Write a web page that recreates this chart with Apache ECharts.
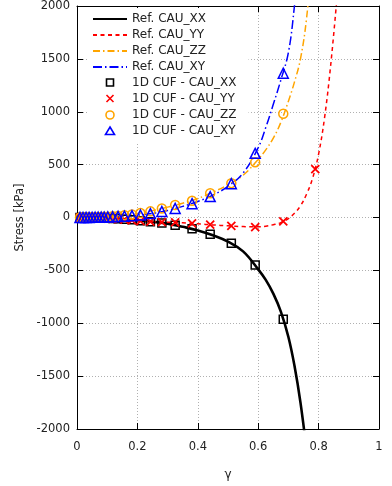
<!DOCTYPE html>
<html>
<head>
<meta charset="utf-8">
<script src="https://cdn.jsdelivr.net/npm/echarts@6/dist/echarts.min.js"></script>
<style>
  html, body { margin: 0; padding: 0; background: #ffffff; }
  #chart { width: 392px; height: 486px; }
</style>
</head>
<body>
<div id="chart"></div>
<script>
// Reference solution: shear strain γ and stress components [kPa]
const refGamma = [0, 0.05, 0.10, 0.15, 0.20, 0.25, 0.30, 0.35, 0.40, 0.45, 0.50, 0.55, 0.60, 0.625, 0.65, 0.675, 0.70, 0.72, 0.74, 0.76, 0.78, 0.80, 0.82, 0.84, 0.86];
const refXX = [0, -2, -6, -14, -26, -40, -58, -88, -122, -168, -228, -320, -490, -590, -720, -890, -1130, -1400, -1750, -2200, null, null, null, null, null];
const refYY = [0, -4, -10, -20, -32, -39, -44, -50, -60, -70, -79, -86, -88, -82, -68, -48, -10, 40, 110, 220, 370, 600, 950, 1440, 2050];
const refZZ = [0, 2, 8, 18, 38, 65, 98, 135, 180, 240, 310, 400, 550, 640, 750, 900, 1100, 1280, 1500, 1880, 2500, null, null, null, null];
const refXY = [0, 1, 4, 10, 22, 38, 66, 105, 152, 212, 295, 420, 660, 850, 1070, 1300, 1560, 2000, 2600, null, null, null, null, null, null];

// 1D CUF results at the load steps
const cufGamma = [0.01, 0.02, 0.03, 0.04, 0.05, 0.06, 0.07, 0.08, 0.09, 0.102, 0.118, 0.136, 0.157, 0.182, 0.210, 0.243, 0.281, 0.325, 0.381, 0.441, 0.511, 0.590, 0.683, 0.789];
const cufXX = [0, -0.5, -1, -1.5, -2, -3, -4, -5, -6, -7, -9, -12, -16, -22, -30, -40, -52, -74, -106, -158, -243, -449, -963, null];
const cufYY = [-0.5, -1, -2, -3, -4, -5, -6, -7, -8, -10, -13, -16, -21, -28, -34, -39, -43, -47, -55, -68, -80, -90, -37, 458];
const cufZZ = [0.2, 0.5, 1, 1.5, 2, 3, 4, 5, 6.5, 8, 11, 15, 21, 29, 42, 58, 85, 118, 158, 230, 325, 523, 981, null];
const cufXY = [0.1, 0.3, 0.5, 1, 1.5, 2, 2.5, 3, 4, 5, 7, 9, 13, 17, 24, 37, 57, 86, 131, 198, 320, 607, 1364, null];

const xTicks = { min: 0, max: 1, interval: 0.2 };
const yTicks = { min: -2000, max: 2000, interval: 500 };

function pairs(xs, ys) {
  const out = [];
  xs.forEach((x, i) => { if (ys[i] !== null && ys[i] !== undefined) out.push([x, ys[i]]); });
  return out;
}

const FONT = 'DejaVu Sans';
const crossPath = 'path://M0,0L10,10M10,0L0,10';

// Legend icons drawn inside a 34x9 box (the leading moves fix the box so the
// marker keeps its proportions and sits in the middle of the sample)
const ICON_BOX = 'M0,0M34,9';
const iconSquare = 'path://' + ICON_BOX + 'M13.5,0.5L20.5,0.5L20.5,7.5L13.5,7.5Z';
const iconCross = 'path://' + ICON_BOX + 'M13.5,0.5L20.5,7.5M20.5,0.5L13.5,7.5';
const iconCircle = 'path://' + ICON_BOX + 'M21,4.5A4,4,0,1,1,13,4.5A4,4,0,1,1,21,4.5Z';
const iconTriangle = 'path://' + ICON_BOX + 'M17,0.5L21.5,8L12.5,8Z';

function refLine(name, ys, color, width, dash) {
  return {
    name: name,
    type: 'line',
    data: pairs(refGamma, ys),
    symbol: 'none',
    showSymbol: false,
    smooth: 0.4,
    clip: true,
    lineStyle: { color: color, width: width, type: dash },
    itemStyle: { color: color },
    z: 2
  };
}

function cufMarks(name, ys, color, symbol, size, bw) {
  return {
    name: name,
    type: 'scatter',
    data: pairs(cufGamma, ys),
    symbol: symbol,
    symbolSize: size,
    clip: true,
    itemStyle: { color: 'rgba(0,0,0,0)', borderColor: color, borderWidth: bw, opacity: 1 },
    emphasis: { disabled: true },
    z: 3
  };
}

const markStyle = c => ({ color: 'rgba(0,0,0,0)', borderColor: c, borderWidth: 1.6 });
const legendData = [
  { name: 'Ref. CAU_XX', itemStyle: { opacity: 0, color: 'rgba(0,0,0,0)', borderWidth: 0 } },
  { name: 'Ref. CAU_YY', itemStyle: { opacity: 0, color: 'rgba(0,0,0,0)', borderWidth: 0 } },
  { name: 'Ref. CAU_ZZ', itemStyle: { opacity: 0, color: 'rgba(0,0,0,0)', borderWidth: 0 } },
  { name: 'Ref. CAU_XY', itemStyle: { opacity: 0, color: 'rgba(0,0,0,0)', borderWidth: 0 } },
  { name: '1D CUF - CAU_XX', icon: iconSquare, itemStyle: markStyle('#000000') },
  { name: '1D CUF - CAU_YY', icon: iconCross, itemStyle: markStyle('#ff0000') },
  { name: '1D CUF - CAU_ZZ', icon: iconCircle, itemStyle: markStyle('#ffa500') },
  { name: '1D CUF - CAU_XY', icon: iconTriangle, itemStyle: markStyle('#0000ff') }
];

const chart = echarts.init(document.getElementById('chart'), null, { renderer: 'canvas' });

const axisLineStyle = { lineStyle: { color: '#000', width: 1 } };
const gridLine = { show: true, lineStyle: { color: '#b0b0b0', width: 1, type: [1, 2] } };

chart.setOption({
  backgroundColor: '#ffffff',
  animation: false,
  grid: { left: 77, right: 13, top: 4, bottom: 54, containLabel: false },
  xAxis: [
    {
      type: 'value', position: 'bottom',
      min: xTicks.min, max: xTicks.max, interval: xTicks.interval,
      name: 'γ', nameLocation: 'middle', nameGap: 40,
      nameTextStyle: { fontFamily: FONT, fontSize: 12, color: '#222' },
      axisLine: { show: true, onZero: false, ...axisLineStyle },
      axisTick: { show: true, inside: true, length: 6, lineStyle: { color: '#000' } },
      axisLabel: { fontFamily: FONT, fontSize: 11.5, color: '#222', margin: 12, formatter: v => String(v) },
      splitLine: gridLine
    },
    {
      type: 'value', position: 'top',
      min: xTicks.min, max: xTicks.max, interval: xTicks.interval,
      axisLine: { show: true, onZero: false, ...axisLineStyle },
      axisTick: { show: true, inside: true, length: 6, lineStyle: { color: '#000' } },
      axisLabel: { show: false },
      splitLine: { show: false }
    }
  ],
  yAxis: [
    {
      type: 'value', position: 'left',
      min: yTicks.min, max: yTicks.max, interval: yTicks.interval,
      name: 'Stress [kPa]', nameLocation: 'middle', nameGap: 50, nameRotate: 90,
      nameTextStyle: { fontFamily: FONT, fontSize: 11.5, color: '#222' },
      axisLine: { show: true, onZero: false, ...axisLineStyle },
      axisTick: { show: true, inside: true, length: 6, lineStyle: { color: '#000' } },
      axisLabel: { fontFamily: FONT, fontSize: 11.5, color: '#222', margin: 7, formatter: v => String(v) },
      splitLine: gridLine
    },
    {
      type: 'value', position: 'right',
      min: yTicks.min, max: yTicks.max, interval: yTicks.interval,
      axisLine: { show: true, onZero: false, ...axisLineStyle },
      axisTick: { show: true, inside: true, length: 6, lineStyle: { color: '#000' } },
      axisLabel: { show: false },
      splitLine: { show: false }
    }
  ],
  legend: {
    left: 88, top: 8,
    orient: 'vertical',
    backgroundColor: '#ffffff',
    padding: [4, 12, 6, 4],
    itemWidth: 34, itemHeight: 9, itemGap: 2,
    textStyle: { fontFamily: FONT, fontSize: 12, color: '#222', lineHeight: 14 },
    selectedMode: false,
    data: legendData
  },
  series: [
    refLine('Ref. CAU_XX', refXX, '#000000', 2.6, 'solid'),
    refLine('Ref. CAU_YY', refYY, '#ff0000', 1.5, [4, 3.5]),
    refLine('Ref. CAU_ZZ', refZZ, '#ffa500', 1.5, [7, 3, 1.5, 3]),
    refLine('Ref. CAU_XY', refXY, '#0000ff', 1.5, [9, 3, 1.5, 3]),
    cufMarks('1D CUF - CAU_XX', cufXX, '#000000', 'rect', 8, 1.5),
    cufMarks('1D CUF - CAU_YY', cufYY, '#ff0000', crossPath, 8, 1.8),
    cufMarks('1D CUF - CAU_ZZ', cufZZ, '#ffa500', 'circle', 9, 1.5),
    cufMarks('1D CUF - CAU_XY', cufXY, '#0000ff', 'triangle', 10, 1.5)
  ]
});
</script>
</body>
</html>
